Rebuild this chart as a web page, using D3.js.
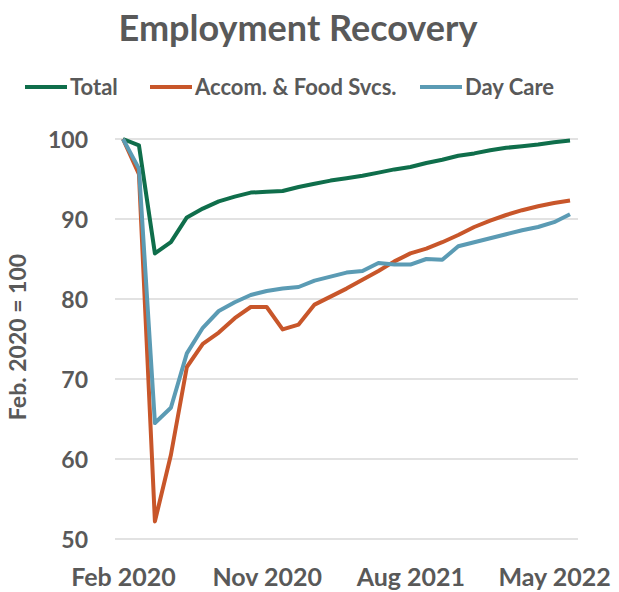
<!DOCTYPE html>
<meta charset="utf-8">
<style>
body { margin: 0; background: #fff; }
text { font-family: Lato, "Open Sans", sans-serif; font-weight: bold; fill: #595959; }
</style>
<body>
<script src="https://d3js.org/d3.v7.min.js"></script>
<script>

// months shown on the x axis (one point per month)
var months = ["Feb 2020", "Mar 2020", "Apr 2020", "May 2020", "Jun 2020", "Jul 2020",
  "Aug 2020", "Sep 2020", "Oct 2020", "Nov 2020", "Dec 2020", "Jan 2021",
  "Feb 2021", "Mar 2021", "Apr 2021", "May 2021", "Jun 2021", "Jul 2021",
  "Aug 2021", "Sep 2021", "Oct 2021", "Nov 2021", "Dec 2021", "Jan 2022",
  "Feb 2022", "Mar 2022", "Apr 2022", "May 2022", "Jun 2022"];

var tickLabels = ["Feb 2020", "Nov 2020", "Aug 2021", "May 2022"];
var yTicks = [50, 60, 70, 80, 90, 100];

var total = [100, 99.2, 85.7, 87.1, 90.2, 91.3, 92.2, 92.8, 93.3, 93.4, 93.5, 94.0,
  94.4, 94.8, 95.1, 95.4, 95.8, 96.2, 96.5, 97.0, 97.4, 97.9, 98.2, 98.6,
  98.9, 99.1, 99.3, 99.6, 99.8];

var accomFood = [100, 95.6, 52.2, 60.5, 71.5, 74.4, 75.8, 77.6, 79.0, 79.0, 76.2, 76.8,
  79.3, 80.3, 81.3, 82.4, 83.5, 84.7, 85.7, 86.3, 87.1, 88.0, 89.0, 89.8,
  90.5, 91.1, 91.6, 92.0, 92.3];

var dayCare = [100, 96.3, 64.5, 66.4, 73.2, 76.4, 78.5, 79.6, 80.5, 81.0, 81.3, 81.5,
  82.3, 82.8, 83.3, 83.5, 84.5, 84.3, 84.3, 85.0, 84.9, 86.6, 87.1, 87.6,
  88.1, 88.6, 89.0, 89.6, 90.6];

var seriesNames = ["Total", "Accom. & Food Svcs.", "Day Care"];
var colors = ["#0f6e4b", "#c8562a", "#5b9bb4"];

var width = 619, height = 592;
var margin = { left: 115, right: 41, top: 139, bottom: 53 };

var svg = d3.select("body").append("svg")
  .attr("width", width).attr("height", height);

var x = d3.scalePoint()
  .domain(months)
  .range([margin.left, width - margin.right])
  .padding(0.5);

var y = d3.scaleLinear()
  .domain([50, 100])
  .range([height - margin.bottom, margin.top]);

// gridlines
svg.append("g").selectAll("line").data(yTicks).enter().append("line")
  .attr("x1", margin.left).attr("x2", width - margin.right)
  .attr("y1", d => y(d)).attr("y2", d => y(d))
  .attr("stroke", "#d9d9d9").attr("stroke-width", 1.5);

// y axis
var yAxis = d3.axisLeft(y).tickValues(yTicks).tickSize(0).tickPadding(27);
var gy = svg.append("g").attr("transform", "translate(" + margin.left + ",0)").call(yAxis);
gy.select(".domain").remove();
gy.selectAll("text").style("font-size", "23px").attr("dy", "0.35em");

// x axis
var xAxis = d3.axisBottom(x).tickValues(tickLabels).tickSize(0).tickPadding(29);
var gx = svg.append("g").attr("transform", "translate(0," + (height - margin.bottom) + ")").call(xAxis);
gx.select(".domain").remove();
gx.selectAll("text").style("font-size", "25px");

// y axis title
svg.append("text")
  .attr("transform", "translate(26," + 337 + ") rotate(-90)")
  .attr("text-anchor", "middle")
  .style("font-size", "23px")
  .text("Feb. 2020 = 100");

// title
svg.append("text")
  .attr("x", 298).attr("y", 41)
  .attr("text-anchor", "middle")
  .style("font-size", "36px")
  .text("Employment Recovery");

// lines
var line = d3.line()
  .x((d, i) => x(months[i]))
  .y(d => y(d));

[total, accomFood, dayCare].forEach(function(s, k) {
  svg.append("path")
    .datum(s)
    .attr("fill", "none")
    .attr("stroke", colors[k])
    .attr("stroke-width", 4)
    .attr("stroke-linejoin", "round")
    .attr("d", line);
});

// legend
var legendX = [25, 150, 420];
var legend = svg.append("g").selectAll("g").data(seriesNames).enter().append("g")
  .attr("transform", (d, i) => "translate(" + legendX[i] + ",87)");
legend.append("line")
  .attr("x1", 0).attr("x2", 42)
  .attr("stroke", (d, i) => colors[i]).attr("stroke-width", 4);
legend.append("text")
  .attr("x", 45).attr("dy", "0.35em")
  .style("font-size", "22px")
  .text(d => d);

</script>
</body>
